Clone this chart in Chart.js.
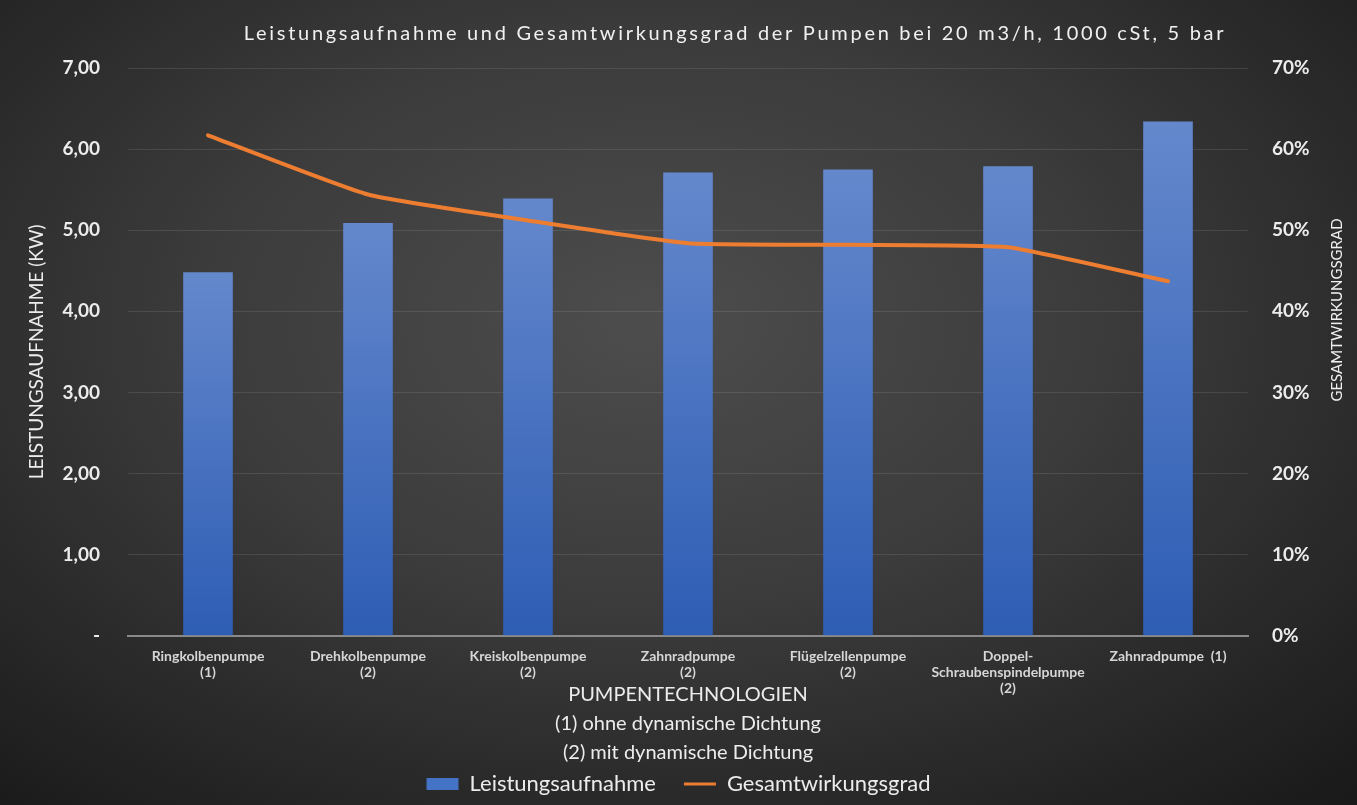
<!DOCTYPE html>
<html>
<head>
<meta charset="utf-8">
<script src="https://cdn.jsdelivr.net/npm/chart.js@4"></script>
<style>
  body { margin: 0; }
  #wrap {
    width: 1357px; height: 805px; position: relative;
    background: radial-gradient(ellipse 75% 80% at 48% 40%, #4d4d4d 0%, #3b3b3b 45%, #262626 80%, #1a1a1a 100%);
  }
</style>
</head>
<body>
<div id="wrap"><canvas id="myChart"></canvas></div>
<script>
// pump types
let categories = [
  ["Ringkolbenpumpe", "(1)"],
  ["Drehkolbenpumpe", "(2)"],
  ["Kreiskolbenpumpe", "(2)"],
  ["Zahnradpumpe", "(2)"],
  ["Flügelzellenpumpe", "(2)"],
  ["Doppel-", "Schraubenspindelpumpe", "(2)"],
  "Zahnradpumpe  (1)",
];
// kW
let power = [4.48, 5.09, 5.39, 5.71, 5.75, 5.79, 6.34];
// percent
let efficiency = [61.7, 54.4, 51.2, 48.4, 48.2, 47.9, 43.7];

let chartTitle = "Leistungsaufnahme und Gesamtwirkungsgrad der Pumpen bei 20 m3/h, 1000 cSt, 5 bar";
let xTitle = ["PUMPENTECHNOLOGIEN", "(1) ohne dynamische Dichtung", "(2) mit dynamische Dichtung"];
let yTitle = "LEISTUNGSAUFNAHME (KW)";
let y1Title = "GESAMTWIRKUNGSGRAD";

const FONT = "Lato, 'Open Sans', sans-serif";

// title on top + right axis title (reads bottom to top like the left one)
const extraText = {
  id: "extraText",
  afterDraw(chart) {
    const c = chart.ctx;
    c.save();
    c.fillStyle = "#f0f0f0";
    c.font = "20px " + FONT;
    c.letterSpacing = "2.7px";
    c.textAlign = "center";
    c.textBaseline = "middle";
    c.fillText(chartTitle, 735, 34);
    c.letterSpacing = "0px";
    c.translate(1337, 310);
    c.rotate(-Math.PI / 2);
    c.font = "15px " + FONT;
    c.fillText(y1Title, 0, 0);
    c.restore();
  },
};

let ctx = document.getElementById("myChart").getContext("2d");

let myChart = new Chart(ctx, {
  type: "bar",
  data: {
    labels: categories,
    datasets: [
      {
        type: "line",
        label: "Gesamtwirkungsgrad",
        data: efficiency,
        yAxisID: "y1",
        borderColor: "#ed7d31",
        borderWidth: 4,
        borderCapStyle: "round",
        pointRadius: 0,
        tension: 0.15,
        fill: false,
        order: 0,
      },
      {
        label: "Leistungsaufnahme",
        data: power,
        yAxisID: "y",
        barPercentage: 0.31,
        categoryPercentage: 1,
        order: 1,
        backgroundColor: (c) => {
          const chart = c.chart;
          if (!chart.chartArea || c.dataIndex === undefined) return "#4472c4";
          const y = chart.scales.y;
          const top = y.getPixelForValue(power[c.dataIndex]);
          const bottom = y.getPixelForValue(0);
          const g = chart.ctx.createLinearGradient(0, top, 0, bottom);
          g.addColorStop(0, "#6488cc");
          g.addColorStop(1, "#2e5db4");
          return g;
        },
      },
    ],
  },
  options: {
    responsive: true,
    maintainAspectRatio: false,
    animation: false,
    layout: { padding: { top: 68, left: 0, right: 0, bottom: 0 } },
    plugins: {
      title: { display: false },
      tooltip: { enabled: false },
      legend: {
        position: "bottom",
        labels: {
          color: "#ececec",
          font: { family: FONT, size: 22 },
          usePointStyle: true,
          pointStyleWidth: 32,
          boxHeight: 12,
          padding: 28,
          generateLabels: () => [
            {
              text: "Leistungsaufnahme",
              fillStyle: "#4472c4",
              strokeStyle: "#4472c4",
              lineWidth: 0,
              pointStyle: "rect",
              fontColor: "#ececec",
            },
            {
              text: "Gesamtwirkungsgrad",
              fillStyle: "#ed7d31",
              strokeStyle: "#ed7d31",
              lineWidth: 3,
              pointStyle: "line",
              fontColor: "#ececec",
            },
          ],
        },
      },
    },
    scales: {
      x: {
        grid: { display: false, drawTicks: false },
        border: { display: true, color: "#8a8a8a", width: 2 },
        ticks: {
          color: "#d6d6d6",
          font: { family: FONT, size: 14, weight: "bold", lineHeight: 1.15 },
          padding: 13,
          maxRotation: 0,
          autoSkip: false,
        },
        title: {
          display: true,
          text: xTitle,
          color: "#ececec",
          font: { family: FONT, size: 20, lineHeight: 1.45 },
          padding: { top: -30, bottom: -22 },
        },
      },
      y: {
        type: "linear",
        position: "left",
        min: 0,
        max: 7,
        ticks: {
          stepSize: 1,
          color: "#ececec",
          font: { family: FONT, size: 19, weight: "bold" },
          padding: 28,
          callback: (v) => (v === 0 ? "-" : v.toFixed(2).replace(".", ",")),
        },
        grid: { color: "rgba(255,255,255,0.10)", drawTicks: false },
        border: { display: false },
        title: {
          display: true,
          text: yTitle,
          color: "#ececec",
          font: { family: FONT, size: 19 },
          padding: { top: 25, bottom: 0 },
        },
        afterFit: (s) => { s.width = 128; },
      },
      y1: {
        type: "linear",
        position: "right",
        min: 0,
        max: 70,
        ticks: {
          stepSize: 10,
          color: "#ececec",
          font: { family: FONT, size: 19, weight: "bold" },
          padding: 24,
          callback: (v) => v + "%",
        },
        grid: { display: false, drawTicks: false },
        border: { display: false },
        afterFit: (s) => { s.width = 109; },
      },
    },
  },
  plugins: [extraText],
});
</script>
</body>
</html>
